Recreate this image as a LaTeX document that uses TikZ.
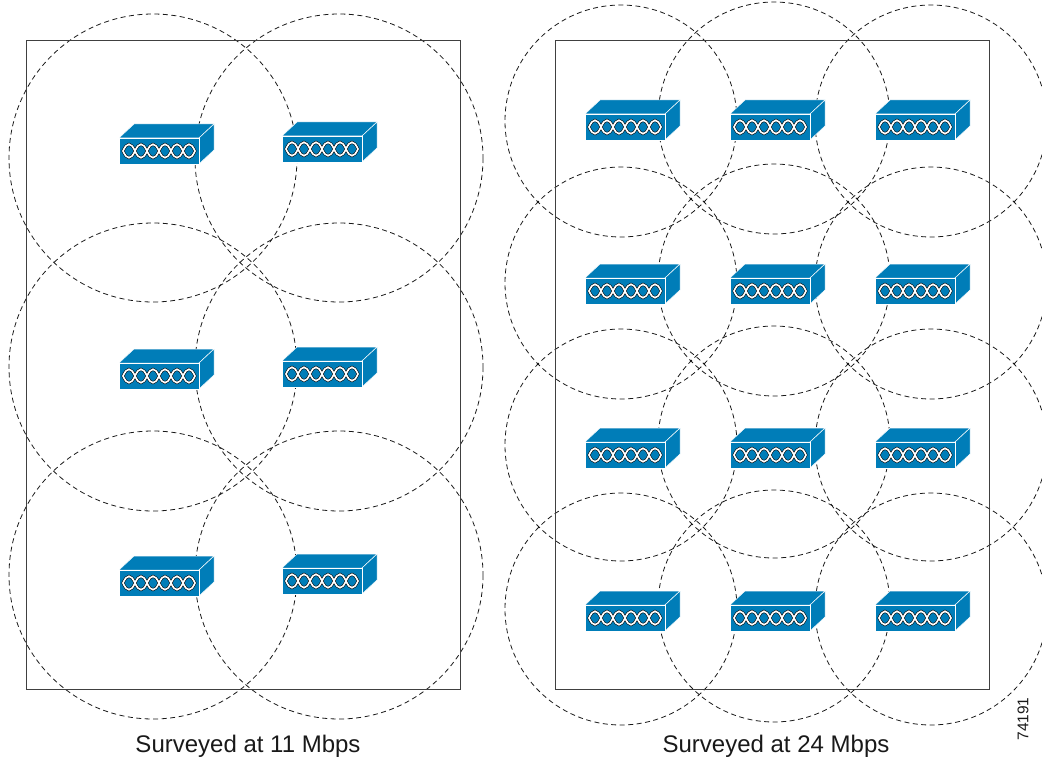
\documentclass[tikz,border=0pt]{standalone}
\usepackage{fontspec}
\setmainfont{Liberation Sans}
\definecolor{boxblue}{RGB}{0,125,184}
\tikzset{
  cellring/.style = {dash pattern = on 5pt off 3.5pt, line width = 0.8pt, black!90},
  area/.style = {line width = 0.9pt, black!75},
  caption/.style = {font = \fontsize{24}{28}\selectfont, black!90},
  eye/.style = {insert path = {(4+12*#1,13) .. controls (8+12*#1,4) and (12+12*#1,4) .. (16+12*#1,13) .. controls (12+12*#1,22) and (8+12*#1,22) .. cycle}},
  pics/radio/.style = {code = {
    \fill [boxblue, draw = white, line width = 0.5pt] (0,0) -- (15,-14) -- (95,-14) -- (80,0) -- cycle;
    \fill [boxblue, draw = white, line width = 0.5pt] (80,0) -- (95,-14) -- (95,12) -- (80,26) -- cycle;
    \fill [boxblue, draw = white, line width = 0.5pt] (0,0) rectangle (80,26);
    \foreach \i in {0,...,5} {
      \draw [black, line width = 2.8pt, miter limit = 2, eye = \i];
    }
    \foreach \i in {0,...,5} {
      \draw [white, line width = 1.7pt, miter limit = 2, eye = \i];
    }
  }}
}
\begin{document}
\begin{tikzpicture}[x = 1pt, y = -1pt]
\useasboundingbox (0,0) rectangle (1042,757);
\begin{scope}
\clip (0,0) rectangle (1042,757);
\foreach \cy in {158,367,575} {
  \draw [cellring] (153,\cy) circle (144);
  \draw [cellring] (339,\cy) circle (144);
}
\foreach \cy in {121,283,445,609} {
  \draw [cellring] (621,\cy) circle (116);
  \draw [cellring] (774,\cy-3) circle (116);
  \draw [cellring] (931,\cy) circle (116);
}
\end{scope}
\draw [area] (26,40) rectangle (460,689);
\draw [area] (555,40) rectangle (989,689);
\pic at (119,138) {radio};
\pic at (282,136) {radio};
\pic at (119,363) {radio};
\pic at (282,361) {radio};
\pic at (119,570) {radio};
\pic at (282,568) {radio};
\foreach \fy in {114,278,442,605} {
  \pic at (585,\fy) {radio};
  \pic at (730,\fy) {radio};
  \pic at (875,\fy) {radio};
}
\node [caption] (left caption) at (248,746) {Surveyed at 11 Mbps};
\node [caption] (right caption) at (776,746) {Surveyed at 24 Mbps};
\node [rotate = 90, font = \fontsize{15.5}{18}\selectfont, black!90] (figure number) at (1023,719) {74191};
\end{tikzpicture}
\end{document}
